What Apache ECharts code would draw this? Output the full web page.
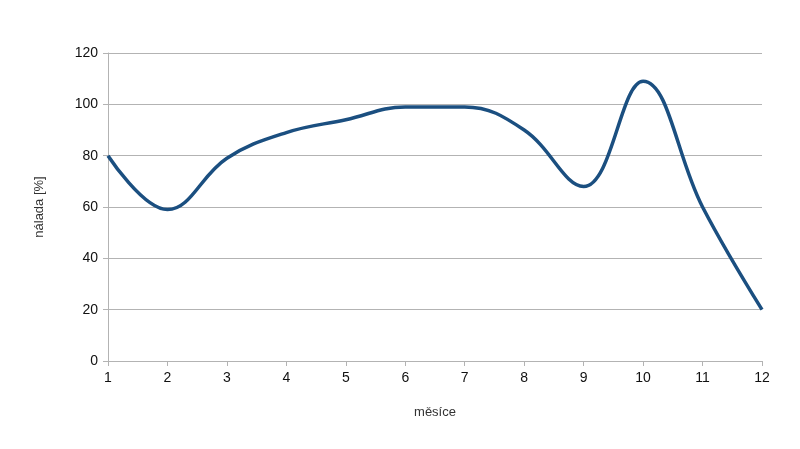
<!DOCTYPE html>
<html>
<head>
<meta charset="utf-8">
<script src="https://cdn.jsdelivr.net/npm/echarts@6/dist/echarts.min.js"></script>
<style>html,body{margin:0;padding:0;background:#fff}#chart{width:800px;height:449px}</style>
</head>
<body>
<div id="chart"></div>
<script>
var months = ['1', '2', '3', '4', '5', '6', '7', '8', '9', '10', '11', '12'];
var mood = [80, 59, 79, 89, 94, 99, 99, 90, 68, 109, 60, 20];

var myChart = echarts.init(document.getElementById('chart'));
myChart.setOption({
    animation: false,
    grid: {left: 108, right: 38, top: 53, bottom: 88},
    xAxis: {
        type: 'category',
        boundaryGap: false,
        data: months,
        name: 'měsíce',
        nameLocation: 'middle',
        nameGap: 45,
        nameTextStyle: {color: '#333', fontSize: 13, fontFamily: 'Liberation Sans'},
        axisLine: {lineStyle: {color: '#b3b3b3'}},
        axisTick: {alignWithLabel: true, length: 5, lineStyle: {color: '#b3b3b3'}},
        axisLabel: {color: '#111', fontSize: 14, fontFamily: 'Liberation Sans', margin: 10}
    },
    yAxis: {
        type: 'value',
        min: 0, max: 120, interval: 20,
        name: 'nálada [%]',
        nameLocation: 'middle',
        nameGap: 62,
        nameTextStyle: {color: '#333', fontSize: 13, fontFamily: 'Liberation Sans'},
        axisLine: {show: true, lineStyle: {color: '#b3b3b3'}},
        axisTick: {show: true, length: 5, lineStyle: {color: '#b3b3b3'}},
        axisLabel: {color: '#111', fontSize: 14, fontFamily: 'Liberation Sans', margin: 10},
        splitLine: {lineStyle: {color: '#b3b3b3'}}
    },
    series: [{
        type: 'line',
        data: mood,
        smooth: 0.4,
        showSymbol: false,
        lineStyle: {color: '#1b4f80', width: 3.5}
    }]
});
</script>
</body>
</html>
